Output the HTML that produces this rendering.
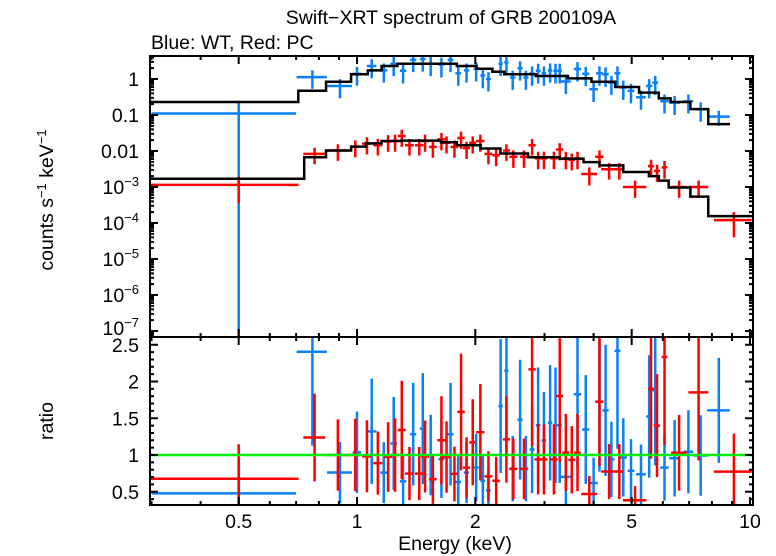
<!DOCTYPE html>
<html><head><meta charset="utf-8"><style>
html,body{margin:0;padding:0;background:#fff;}
svg{display:block;font-family:"Liberation Sans",sans-serif;}
</style></head><body>
<svg id="chart" width="776" height="556" viewBox="0 0 776 556"></svg>
<script>
// ---- data ----
const blueE=[0.5,0.77,0.905,1.0,1.09,1.17,1.24,1.31,1.39,1.47,1.54,1.64,1.73,1.81,1.90,2.01,2.09,2.16,2.32,2.40,2.49,2.60,2.69,2.79,2.89,2.99,3.10,3.20,3.28,3.40,3.64,3.82,4.0,4.14,4.29,4.44,4.6,4.76,4.98,5.28,5.54,5.74,6.06,6.43,6.97,7.49,8.33];
const blueV=[0.11,1.13,0.64,1.4,2.3,1.74,2.65,1.7,3.4,3.6,2.65,2.5,3.4,1.45,1.74,1.9,1.25,1.0,2.65,2.9,1.1,2.0,1.1,1.45,1.7,1.45,1.74,1.7,1.7,0.85,1.9,1.4,0.52,1.45,1.35,0.79,1.45,0.58,0.47,0.31,0.64,0.79,0.24,0.22,0.24,0.145,0.09];
const blueDE=[0.2,0.068,0.066,0.025,0.03,0.025,0.025,0.025,0.025,0.025,0.025,0.03,0.03,0.03,0.03,0.03,0.03,0.03,0.03,0.03,0.04,0.04,0.04,0.04,0.04,0.04,0.04,0.04,0.04,0.1,0.08,0.08,0.1,0.08,0.08,0.08,0.08,0.1,0.1,0.15,0.1,0.1,0.15,0.2,0.2,0.3,0.55];
const blueErr=[0.11,0.6,0.35,0.75,1.25,0.95,1.45,0.95,1.85,2.0,1.45,1.4,1.85,0.8,0.95,1.05,0.7,0.55,1.45,1.6,0.6,1.1,0.6,0.8,0.95,0.8,0.95,0.95,0.95,0.47,1.05,0.77,0.29,0.8,0.75,0.43,0.8,0.32,0.26,0.17,0.35,0.43,0.13,0.12,0.13,0.08,0.04];
const redE=[0.5,0.78,0.894,0.99,1.06,1.13,1.2,1.25,1.3,1.36,1.44,1.49,1.56,1.64,1.69,1.77,1.84,1.90,1.97,2.06,2.16,2.26,2.40,2.5,2.66,2.79,2.89,2.99,3.17,3.28,3.40,3.52,3.64,3.9,4.14,4.38,4.65,5.1,5.6,5.8,6.06,6.6,7.4,9.1];
const redV=[0.00115,0.0083,0.0103,0.0132,0.016,0.0145,0.0185,0.019,0.026,0.0145,0.0145,0.019,0.013,0.021,0.017,0.013,0.023,0.012,0.017,0.019,0.0083,0.0076,0.0103,0.0069,0.0069,0.0145,0.0063,0.0063,0.0063,0.011,0.0063,0.0057,0.0063,0.0023,0.0069,0.0031,0.0031,0.001,0.0038,0.0028,0.0035,0.001,0.001,0.00012];
const redDE=[0.21,0.05,0.06,0.03,0.03,0.03,0.03,0.03,0.03,0.035,0.035,0.035,0.035,0.04,0.04,0.04,0.04,0.04,0.04,0.05,0.05,0.05,0.05,0.06,0.06,0.06,0.06,0.06,0.07,0.07,0.07,0.07,0.07,0.18,0.1,0.2,0.1,0.35,0.1,0.1,0.1,0.3,0.43,1.0];
const redErr=[0.0008,0.004,0.005,0.0065,0.008,0.007,0.009,0.0095,0.013,0.007,0.007,0.0095,0.0065,0.0105,0.0085,0.0065,0.0115,0.006,0.0085,0.0095,0.004,0.0038,0.005,0.0035,0.0035,0.007,0.0032,0.0032,0.0032,0.0055,0.0032,0.0028,0.0032,0.0012,0.0035,0.0015,0.0015,0.0005,0.0019,0.0014,0.0018,0.0005,0.0005,0.00008];
const blueEdges=[0.297,0.709,0.834,0.966,1.065,1.155,1.267,1.795,2.015,2.21,2.37,2.85,3.44,3.95,4.54,5.22,5.86,6.28,7.05,7.83,8.9];
const blueModel=[0.23,0.47,0.84,1.35,1.74,2.29,2.65,2.29,1.93,1.59,1.35,1.21,1.04,0.84,0.6,0.42,0.29,0.23,0.146,0.056];
const redEdges=[0.297,0.734,0.834,0.966,1.052,1.155,1.297,1.636,1.795,2.063,2.317,2.725,3.28,3.77,4.14,4.76,5.53,5.86,6.21,7.05,7.83,10.5];
const redModel=[0.0017,0.0067,0.0103,0.0132,0.0163,0.019,0.0194,0.0175,0.0145,0.0117,0.0085,0.0067,0.0061,0.0049,0.004,0.0026,0.002,0.0015,0.00097,0.00054,0.000155];
const xTicks=[0.5,1,2,5,10];
const xTickLabels=["0.5","1","2","5","10"];
const ratioTicks=[0.5,1,1.5,2,2.5];
const ratioTickLabels=["0.5","1","1.5","2","2.5"];

// ---- layout ----
const L=150,R=753,T=56,M=337,B=505,FS=19.5;
const svg=document.getElementById('chart');
const NS='http://www.w3.org/2000/svg';
function el(tag,attrs,parent){const e=document.createElementNS(NS,tag);for(const k in attrs)e.setAttribute(k,attrs[k]);(parent||svg).appendChild(e);return e;}
function X(e){return 357+393*Math.log10(e);}
function Yt(v){return 79-36*Math.log10(v);}
function Yr(r){return 455-73.5*(r-1);}
function clip(y,a,b){return Math.max(a,Math.min(b,y));}
function modelAt(edges,vals,e){for(let i=0;i<vals.length;i++){if(e>=edges[i]&&e<edges[i+1])return vals[i];}return vals[vals.length-1];}

const defs=el('defs',{});
const c1=el('clipPath',{id:'ct'},defs);el('rect',{x:L,y:T,width:R-L,height:M-T},c1);
const c2=el('clipPath',{id:'cb'},defs);el('rect',{x:L,y:M,width:R-L,height:B-M},c2);

let t=el('text',{x:451,y:24,'font-size':FS,'text-anchor':'middle'});t.textContent='Swift\u2212XRT spectrum of GRB 200109A';

t=el('text',{x:151,y:49,'font-size':FS});t.textContent='Blue: WT, Red: PC';


const gTop=el('g',{'clip-path':'url(#ct)'});

const gBot=el('g',{'clip-path':'url(#cb)'});


function drawSeries(E,V,DE,ERR,edges,model,color,name){
  const g=el('g',{stroke:color,'stroke-width':2.5,fill:'none'},gTop);
  
  const gr=el('g',{stroke:color,'stroke-width':2.5,fill:'none'},gBot);
  
  for(let i=0;i<E.length;i++){
    const x=X(E[i]),x1=X(E[i]-DE[i]),x2=X(E[i]+DE[i]);
    const y=Yt(V[i]),lo=V[i]-ERR[i],hi=V[i]+ERR[i];
    const ylo=lo>0?Yt(lo):M+20,yhi=Yt(hi);
    const p=el('path',{d:`M${x1},${y}H${x2}M${x},${ylo}V${yhi}`},g);
    
    const m=modelAt(edges,model,E[i]);
    const r=V[i]/m,re=ERR[i]/m;
    const ry=Yr(r),ry1=clip(Yr(r-re),M-5,B+5),ry2=clip(Yr(r+re),M-5,B+5);
    const q=el('path',{d:`M${x1},${ry}H${x2}M${x},${ry1}V${ry2}`},gr);
    
  }
}
drawSeries(blueE,blueV,blueDE,blueErr,blueEdges,blueModel,'#0a80f5','wt');
drawSeries(redE,redV,redDE,redErr,redEdges,redModel,'#ff0000','pc');

function drawModel(edges,vals,name){
  let d='';
  for(let i=0;i<vals.length;i++){
    const y=Yt(vals[i]);
    d+=(i===0?`M${X(edges[0])},${y}`:`V${y}`)+`H${X(edges[i+1])}`;
  }
  const p=el('path',{d:d,stroke:'#000','stroke-width':2.5,fill:'none'},gTop);
  
}
drawModel(blueEdges,blueModel,'wt');
drawModel(redEdges,redModel,'pc');

const gl=el('line',{x1:L,x2:R,y1:Yr(1),y2:Yr(1),stroke:'#00ee00','stroke-width':2.5});


let f=el('rect',{x:L,y:T,width:R-L,height:M-T,fill:'none',stroke:'#000','stroke-width':2});

f=el('rect',{x:L,y:M,width:R-L,height:B-M,fill:'none',stroke:'#000','stroke-width':2});


const tk=el('g',{stroke:'#000','stroke-width':2});

let d='';
for(let dec=-1;dec<=1;dec++)for(let k=1;k<10;k++){
  const e=k*Math.pow(10,dec); if(e<0.3||e>10.1)continue;
  const x=X(e),len=(xTicks.indexOf(+e.toFixed(3))>=0)?8:4;
  d+=`M${x},${T}v${len}M${x},${M}v${-len}M${x},${M}v${len}M${x},${B}v${-len}`;
}
for(let dec=-8;dec<=0;dec++)for(let k=1;k<10;k++){
  const v=k*Math.pow(10,dec);const y=Yt(v); if(y<T||y>M)continue;
  const len=k===1?8:4;
  d+=`M${L},${y}h${len}M${R},${y}h${-len}`;
}
for(let r=0.4;r<=2.6;r+=0.1){
  const y=Yr(r); if(y<M||y>B)continue;
  const major=Math.abs(r*2-Math.round(r*2))<0.01;
  const len=major?8:4;
  d+=`M${L},${y}h${len}M${R},${y}h${-len}`;
}
el('path',{d:d},tk);

for(let i=0;i<xTicks.length;i++){
  t=el('text',{x:X(xTicks[i]),y:528,'font-size':FS,'text-anchor':'middle'});t.textContent=xTickLabels[i];
  
}
for(let i=0;i<ratioTicks.length;i++){
  t=el('text',{x:139,y:Yr(ratioTicks[i])+7,'font-size':FS,'text-anchor':'end'});t.textContent=ratioTickLabels[i];
  
}
const topLab=['1','0.1','0.01'];
for(let i=0;i<3;i++){
  t=el('text',{x:139,y:Yt(Math.pow(10,-i))+7,'font-size':FS,'text-anchor':'end'});t.textContent=topLab[i];
  
}
for(let p=3;p<=7;p++){
  let y=Yt(Math.pow(10,-p))+7; if(p===7)y-=3;
  t=el('text',{x:139,y:y,'font-size':FS,'text-anchor':'end'});
  
  const a=el('tspan',{},t);a.textContent='10';
  const b=el('tspan',{'font-size':13,dy:-8});b.textContent='\u2212'+p;t.appendChild(b);
}

t=el('text',{x:455,y:550,'font-size':FS,'text-anchor':'middle'});t.textContent='Energy (keV)';

t=el('text',{x:0,y:0,'font-size':FS,'text-anchor':'middle',transform:'translate(53,200) rotate(-90)'});

let s=el('tspan',{},t);s.textContent='counts s';
s=el('tspan',{'font-size':13,dy:-7});s.textContent='\u22121';t.appendChild(s);
s=el('tspan',{dy:7});s.textContent=' keV';t.appendChild(s);
s=el('tspan',{'font-size':13,dy:-7});s.textContent='\u22121';t.appendChild(s);
t=el('text',{x:0,y:0,'font-size':FS,'text-anchor':'middle',transform:'translate(53,421) rotate(-90)'});t.textContent='ratio';

</script>
</body></html>
